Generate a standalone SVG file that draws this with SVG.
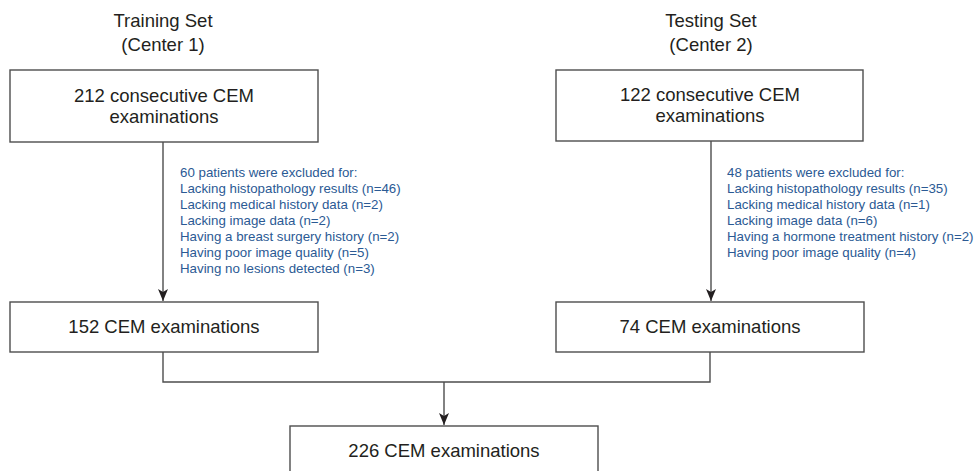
<svg xmlns="http://www.w3.org/2000/svg" width="975" height="471" viewBox="0 0 975 471">
<style>
.box{fill:#fff;stroke:#4d4d4d;stroke-width:1.4}
.t{font-family:"Liberation Sans",Arial,sans-serif;font-size:18.5px;fill:#231f20;text-anchor:middle}
.n{font-family:"Liberation Sans",Arial,sans-serif;font-size:13.3px;fill:#2b5a94}
.c{fill:none;stroke:#4d4d4d;stroke-width:1.4}
</style>
<defs>
<marker id="ah" markerWidth="12" markerHeight="10" refX="12" refY="5" orient="auto" markerUnits="userSpaceOnUse" viewBox="0 0 12 10">
<path d="M0,0 L12,5 L0,10 L3,5 Z" fill="#231f20"/>
</marker>
</defs>
<rect width="975" height="471" fill="#fff"/>
<g id="titles">
<text class="t" x="163" y="27">Training Set</text>
<text class="t" x="163" y="51">(Center 1)</text>
<text class="t" x="711" y="27">Testing Set</text>
<text class="t" x="711" y="51">(Center 2)</text>
</g>
<g id="connectors">
<line class="c" x1="163" y1="142" x2="163" y2="301" marker-end="url(#ah)"/>
<line class="c" x1="711" y1="141" x2="711" y2="301" marker-end="url(#ah)"/>
<polyline class="c" points="163,352 163,382 710,382 710,352"/>
<line class="c" x1="444" y1="382" x2="444" y2="425" marker-end="url(#ah)"/>
</g>
<g id="node-212">
<rect class="box" x="10" y="70" width="308" height="72"/>
<text class="t" x="164" y="102">212 consecutive CEM</text>
<text class="t" x="164" y="123">examinations</text>
</g>
<g id="node-122">
<rect class="box" x="556" y="70" width="307" height="71"/>
<text class="t" x="710" y="101">122 consecutive CEM</text>
<text class="t" x="710" y="122">examinations</text>
</g>
<g id="excl-left">
<text class="n" x="180" y="177">60 patients were excluded for:</text>
<text class="n" x="180" y="193">Lacking histopathology results (n=46)</text>
<text class="n" x="180" y="209">Lacking medical history data (n=2)</text>
<text class="n" x="180" y="225">Lacking image data (n=2)</text>
<text class="n" x="180" y="241">Having a breast surgery history (n=2)</text>
<text class="n" x="180" y="257">Having poor image quality (n=5)</text>
<text class="n" x="180" y="273">Having no lesions detected (n=3)</text>
</g>
<g id="excl-right">
<text class="n" x="727" y="177">48 patients were excluded for:</text>
<text class="n" x="727" y="193">Lacking histopathology results (n=35)</text>
<text class="n" x="727" y="209">Lacking medical history data (n=1)</text>
<text class="n" x="727" y="225">Lacking image data (n=6)</text>
<text class="n" x="727" y="241">Having a hormone treatment history (n=2)</text>
<text class="n" x="727" y="257">Having poor image quality (n=4)</text>
</g>
<g id="node-152">
<rect class="box" x="10" y="302" width="308" height="50"/>
<text class="t" x="164" y="333">152 CEM examinations</text>
</g>
<g id="node-74">
<rect class="box" x="556" y="302" width="308" height="50"/>
<text class="t" x="710" y="333">74 CEM examinations</text>
</g>
<g id="node-226">
<rect class="box" x="290" y="426" width="308" height="60"/>
<text class="t" x="444" y="457">226 CEM examinations</text>
</g>
</svg>
